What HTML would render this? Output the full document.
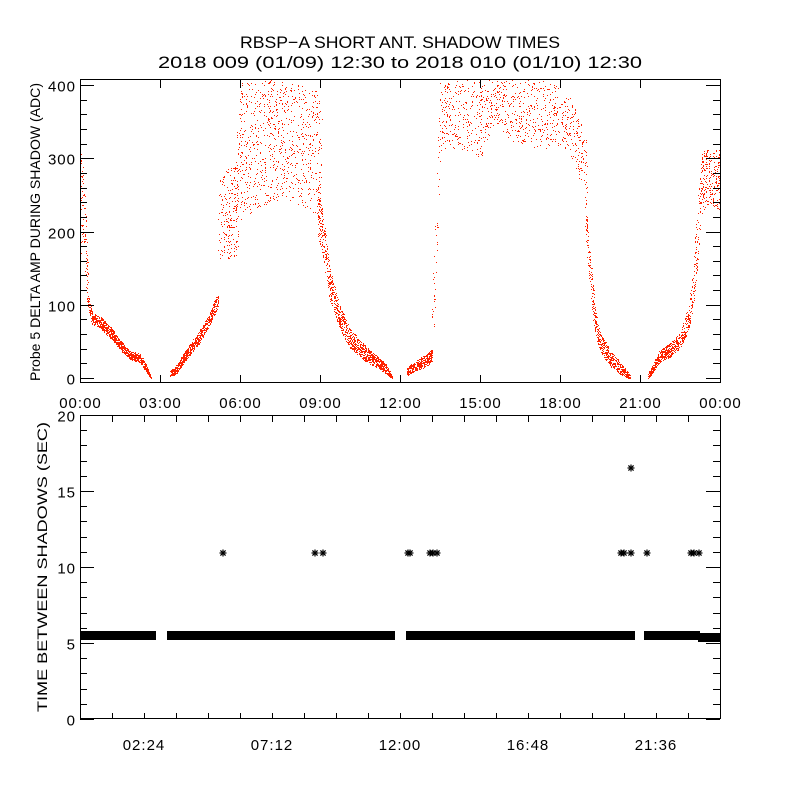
<!DOCTYPE html>
<html><head><meta charset="utf-8"><style>
html,body{margin:0;padding:0;background:#fff;}
svg{display:block;font-family:"Liberation Sans",sans-serif;}
</style></head><body>
<svg id="s" width="800" height="800" xmlns="http://www.w3.org/2000/svg">
<rect width="800" height="800" fill="#fff"/>
<g font-size="17" text-anchor="middle" fill="#000">
<text x="400" y="48" textLength="320" lengthAdjust="spacingAndGlyphs">RBSP−A SHORT ANT. SHADOW TIMES</text>
<text x="400" y="68" textLength="484" lengthAdjust="spacingAndGlyphs">2018 009 (01/09) 12:30 to 2018 010 (01/10) 12:30</text>
</g>
<g id="pts" fill="#ff2200"></g>
<g id="ax" stroke="#000" stroke-width="1" fill="none"></g>
<g id="lbl" font-size="15" fill="#000" letter-spacing="1"></g>
<g id="band" fill="#000"></g>
<g id="stars" stroke="#000" stroke-width="1.2"></g>
<text transform="translate(40,232) rotate(-90)" font-size="14" text-anchor="middle" textLength="298" lengthAdjust="spacingAndGlyphs">Probe 5 DELTA AMP DURING SHADOW (ADC)</text>
<text transform="translate(47,567) rotate(-90)" font-size="14" text-anchor="middle" textLength="290" lengthAdjust="spacingAndGlyphs">TIME BETWEEN SHADOWS (SEC)</text>
</svg>
<script>
var NS="http://www.w3.org/2000/svg";
function el(p,t,a,txt){var e=document.createElementNS(NS,t);for(var k in a)e.setAttribute(k,a[k]);if(txt!=null)e.textContent=txt;document.getElementById(p).appendChild(e);return e;}
function ln(x1,y1,x2,y2){el("ax","line",{x1:x1,y1:y1,x2:x2,y2:y2});}
el("ax","rect",{x:80.5,y:79.5,width:640,height:303});
function vy(v){return 378-0.7325*v;}
for(var v=0;v<=400;v+=20){var y=Math.round(vy(v))+0.5,L=(v%100==0)?14:7;ln(80,y,80+L,y);ln(720-L,y,720,y);
 if(v%100==0)el("lbl","text",{x:76,y:y+6,"text-anchor":"end"},String(v));}
var tl=["00:00","03:00","06:00","09:00","12:00","15:00","18:00","21:00","00:00"];
for(var i=0;i<=8;i++){var x=80+80*i+0.5;ln(x,383,x,375);ln(x,80,x,88);el("lbl","text",{x:x,y:408,"text-anchor":"middle"},tl[i]);}
el("ax","rect",{x:80.5,y:415.5,width:640,height:303});
function by(v){return 719-15.2*v;}
for(var v=0;v<=20;v++){var y=Math.round(by(v))+0.5,L=(v%5==0)?14:7;ln(80,y,80+L,y);ln(720-L,y,720,y);
 if(v%5==0)el("lbl","text",{x:76,y:y+6,"text-anchor":"end"},String(v));}
for(var i=1;i<20;i++){var x=80+32*i+0.5;ln(x,719,x,713);ln(x,416,x,422);}
var bl=["02:24","07:12","12:00","16:48","21:36"];
for(var i=0;i<5;i++)el("lbl","text",{x:144+128*i,y:750,"text-anchor":"middle"},bl[i]);
[[80,156,631,640],[167,395,631,640],[406,635,631,640],[644,700,631,640],[698,720,633,642]].forEach(function(b){el("band","rect",{x:b[0],y:b[2],width:b[1]-b[0],height:b[3]-b[2]});});
function star(x,y){var r=3.5;ln2(x-r,y,x+r,y);ln2(x,y-r,x,y+r);ln2(x-2.6,y-2.6,x+2.6,y+2.6);ln2(x-2.6,y+2.6,x+2.6,y-2.6);}
function ln2(a,b,c,d){el("stars","line",{x1:a,y1:b,x2:c,y2:d});}
[223,315,323,408,410,430,433,437,621,624,631,647,691,694,699].forEach(function(x){star(x,553);});
star(631,468);
var seed=12345;function rnd(){seed=(seed*16807)%2147483647;return seed/2147483647;}
function seg(cp,dens){var x0=cp[0][0],x1=cp[cp.length-1][0];var n=Math.round((x1-x0)*dens);
 for(var i=0;i<n;i++){var x=x0+rnd()*(x1-x0);var j=0;while(j<cp.length-2&&cp[j+1][0]<x)j++;
  var a=cp[j],b=cp[j+1],t=(x-a[0])/(b[0]-a[0]||1);var yc=a[1]+(b[1]-a[1])*t,sp=a[2]+(b[2]-a[2])*t;
  var y=yc+(rnd()*2-1)*sp;if(y<80||y>379)continue;
  el("pts","rect",{x:Math.round(x),y:Math.round(y),width:1,height:1});}}
seg([[80,200,60],[84,220,45],[88,290,20]],12);
seg([[88,300,6],[92,318,6],[100,322,6],[110,332,6],[120,345,5],[130,355,4],[140,358,4],[145,366,4],[151,377,2]],14);
seg([[170,373,3],[176,370,4],[185,356,5],[200,336,6],[210,318,6],[218,300,8]],14);
seg([[218,220,40],[225,215,45],[238,210,45]],10);
seg([[236,180,40],[242,120,40]],8);
seg([[240,150,70],[265,140,65],[290,140,60],[310,150,60],[322,160,70]],10);
seg([[318,210,25],[325,250,20],[330,285,15],[340,318,12],[350,338,10],[365,353,8],[375,360,6],[385,368,5],[392,377,2]],14);
seg([[407,372,4],[415,366,5],[425,361,6],[432,355,6]],14);
seg([[432,330,30],[436,240,50],[440,120,40]],6);
seg([[440,115,35],[470,115,35],[480,120,40],[495,100,20],[510,110,30],[540,115,35],[560,115,30],[570,125,30],[580,150,30],[587,170,30]],6);
seg([[585,210,20],[590,270,20],[595,320,15],[600,342,10],[610,358,8],[620,368,6],[630,377,2]],12);
seg([[648,376,3],[660,356,6],[670,350,7],[680,340,8],[688,320,12],[693,290,18],[697,240,30],[700,200,30]],12);
seg([[700,185,30],[710,175,30],[720,180,30]],12);
</script>
</body></html>
